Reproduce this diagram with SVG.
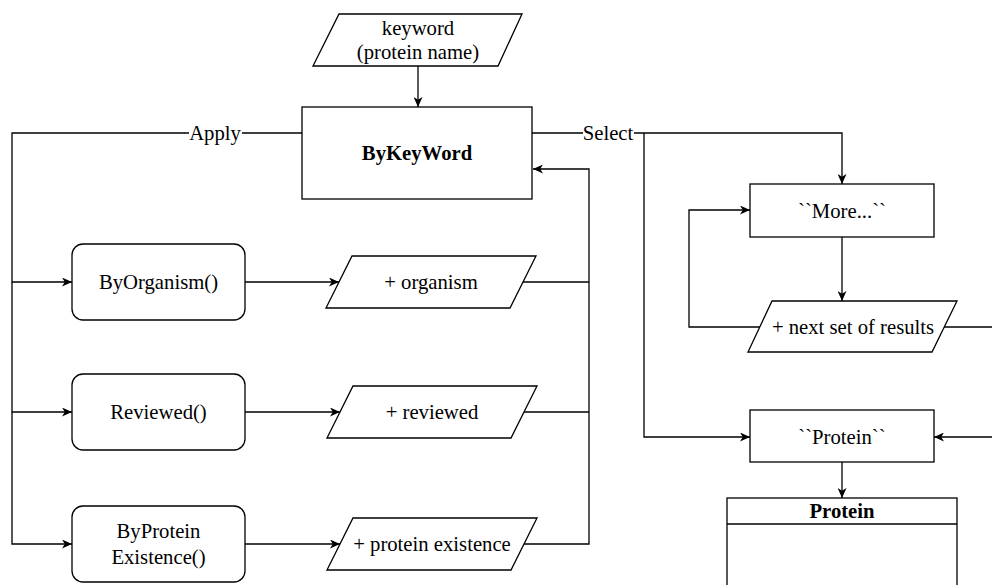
<svg xmlns="http://www.w3.org/2000/svg" width="992" height="585" viewBox="0 0 992 585">
<style>
  .shape { fill: #ffffff; stroke: #000000; stroke-width: 1.3; }
  .edge { fill: none; stroke: #000000; stroke-width: 1.3; }
  .arrow { marker-end: url(#arr); }
  .t { font-family: 'Liberation Serif', 'DejaVu Serif', serif; font-size: 20.7px; fill: #000000; text-anchor: middle; }
  .bold { font-weight: bold; }
  .lbl { fill: #ffffff; stroke: none; }
</style>
<defs>
  <marker id="arr" markerWidth="11" markerHeight="9" refX="10" refY="4.5" orient="auto" markerUnits="userSpaceOnUse">
    <path d="M0,0 L10,4.5 L0,9 L2.8,4.5 Z" fill="#000000"/>
  </marker>
</defs>
<rect width="992" height="585" fill="#ffffff"/>

<g id="connectors">
  <path class="edge arrow" d="M418,66 V107"/>
  <path class="edge arrow" d="M302,133 H12 V282 H72"/>
  <path class="edge arrow" d="M12,282 V412 H72"/>
  <path class="edge arrow" d="M12,412 V544 H72"/>
  <path class="edge arrow" d="M245,282 H339"/>
  <path class="edge arrow" d="M245,412 H340"/>
  <path class="edge arrow" d="M245,544 H340"/>
  <path class="edge" d="M522,282 H589"/>
  <path class="edge" d="M524,412 H589"/>
  <path class="edge arrow" d="M524,544 H589 V169 H533"/>
  <path class="edge arrow" d="M532,133 H842 V184"/>
  <path class="edge arrow" d="M644,133 V437 H750"/>
  <path class="edge arrow" d="M842,237 V301"/>
  <path class="edge arrow" d="M760,327 H689 V210 H750"/>
  <path class="edge arrow" d="M944,327 H1005 V437 H934"/>
  <path class="edge arrow" d="M842,462 V498"/>
  <rect class="lbl" x="189" y="120" width="53" height="26"/>
  <text class="t" x="215" y="140" font-family="Liberation Serif, serif">Apply</text>
  <rect class="lbl" x="583" y="120" width="51" height="26"/>
  <text class="t" x="608" y="140" font-family="Liberation Serif, serif">Select</text>
</g>

<g id="keyword" font-family="Liberation Serif, serif">
  <polygon class="shape" points="339,14 522,14 498,66 313,66"/>
  <text class="t" x="418" y="35">keyword</text>
  <text class="t" x="418" y="59">(protein name)</text>
</g>

<g id="bykeyword" font-family="Liberation Serif, serif">
  <rect class="shape" x="302" y="107" width="230" height="92"/>
  <text class="t bold" x="417" y="160">ByKeyWord</text>
</g>

<g id="byorganism" font-family="Liberation Serif, serif">
  <rect class="shape" x="72" y="244" width="173" height="76" rx="11" ry="11"/>
  <text class="t" x="158.5" y="289">ByOrganism()</text>
</g>

<g id="reviewed" font-family="Liberation Serif, serif">
  <rect class="shape" x="72" y="374" width="173" height="76" rx="11" ry="11"/>
  <text class="t" x="158.5" y="419">Reviewed()</text>
</g>

<g id="byproteinexistence" font-family="Liberation Serif, serif">
  <rect class="shape" x="72" y="506" width="173" height="76" rx="11" ry="11"/>
  <text class="t" x="158.5" y="538">ByProtein</text>
  <text class="t" x="158.5" y="564">Existence()</text>
</g>

<g id="organism" font-family="Liberation Serif, serif">
  <polygon class="shape" points="352,256 536,256 510,308 326,308"/>
  <text class="t" x="431" y="289">+ organism</text>
</g>

<g id="reviewed-out" font-family="Liberation Serif, serif">
  <polygon class="shape" points="353,386 537,386 511,438 327,438"/>
  <text class="t" x="432" y="419">+ reviewed</text>
</g>

<g id="existence-out" font-family="Liberation Serif, serif">
  <polygon class="shape" points="353,518 537,518 511,570 327,570"/>
  <text class="t" x="432" y="551">+ protein existence</text>
</g>

<g id="more" font-family="Liberation Serif, serif">
  <rect class="shape" x="750" y="184" width="184" height="53"/>
  <text class="t" x="842" y="218">``More...``</text>
</g>

<g id="nextset" font-family="Liberation Serif, serif">
  <polygon class="shape" points="772,301 957,301 932,352 748,352"/>
  <text class="t" x="853" y="334">+ next set of results</text>
</g>

<g id="protein-call" font-family="Liberation Serif, serif">
  <rect class="shape" x="750" y="410" width="184" height="52"/>
  <text class="t" x="842" y="444">``Protein``</text>
</g>

<g id="protein-class" font-family="Liberation Serif, serif">
  <rect class="shape" x="727" y="498" width="230" height="110"/>
  <line class="edge" x1="727" y1="524" x2="957" y2="524"/>
  <text class="t bold" x="842" y="518">Protein</text>
</g>
</svg>
